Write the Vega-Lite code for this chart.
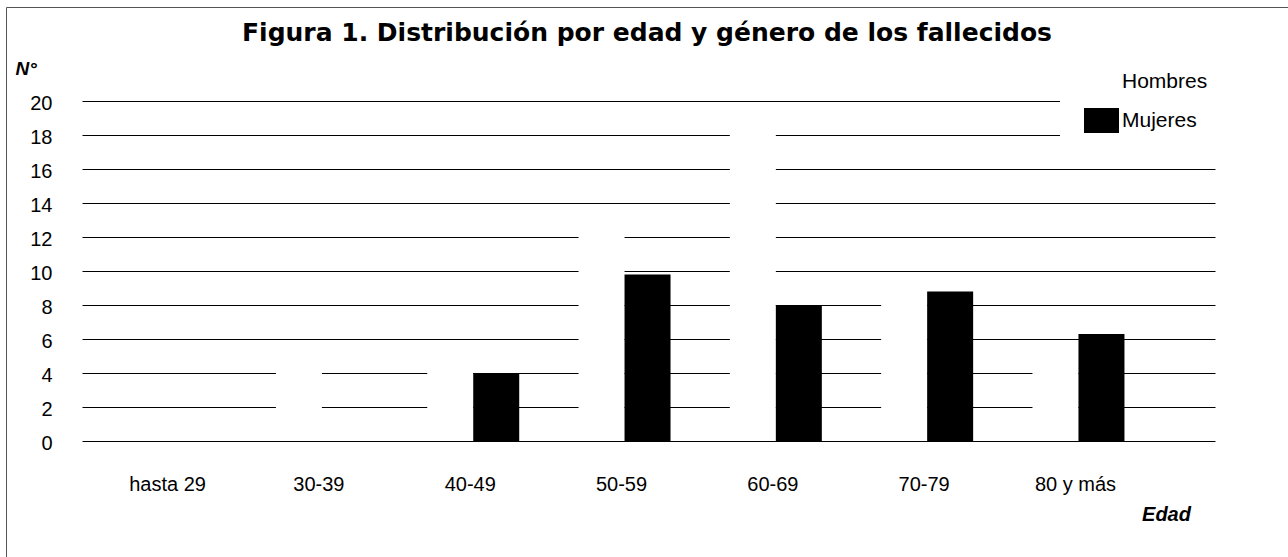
{
  "$schema": "https://vega.github.io/schema/vega-lite/v6.json",
  "autosize": {"type": "none"},
  "width": 1282,
  "height": 550,
  "padding": {"left": 6, "top": 7, "right": 0, "bottom": 0},
  "background": "white",
  "title": {
    "text": "Figura 1. Distribución por edad y género de los fallecidos",
    "font": "DejaVu Sans",
    "fontSize": 25,
    "fontWeight": "bold",
    "color": "black",
    "anchor": "middle",
    "frame": "group",
    "baseline": "alphabetic",
    "offset": -59
  },
  "data": {
    "values": [
      {"edad": "hasta 29", "genero": "Hombres", "n": 1},
      {"edad": "hasta 29", "genero": "Mujeres", "n": 0},
      {"edad": "30-39", "genero": "Hombres", "n": 5},
      {"edad": "30-39", "genero": "Mujeres", "n": 0},
      {"edad": "40-49", "genero": "Hombres", "n": 5},
      {"edad": "40-49", "genero": "Mujeres", "n": 4},
      {"edad": "50-59", "genero": "Hombres", "n": 13},
      {"edad": "50-59", "genero": "Mujeres", "n": 9.8},
      {"edad": "60-69", "genero": "Hombres", "n": 19},
      {"edad": "60-69", "genero": "Mujeres", "n": 8},
      {"edad": "70-79", "genero": "Hombres", "n": 9},
      {"edad": "70-79", "genero": "Mujeres", "n": 8.8},
      {"edad": "80 y más", "genero": "Hombres", "n": 5},
      {"edad": "80 y más", "genero": "Mujeres", "n": 6.3}
    ]
  },
  "mark": {"type": "bar", "strokeWidth": 0},
  "encoding": {
    "x": {
      "field": "edad",
      "type": "nominal",
      "sort": ["hasta 29", "30-39", "40-49", "50-59", "60-69", "70-79", "80 y más"],
      "scale": {"range": [76, 1209], "paddingInner": 0.392, "paddingOuter": 0.44, "align": 0.32},
      "axis": {
        "orient": "bottom",
        "offset": -116,
        "domain": false,
        "ticks": false,
        "grid": false,
        "labelAngle": 0,
        "labelFont": "Liberation Sans",
        "labelFontSize": 20,
        "labelColor": "black",
        "labelBaseline": "alphabetic",
        "labelPadding": 49,
        "labelOffset": -3,
        "title": "Edad",
        "titleFont": "Liberation Sans",
        "titleFontSize": 20,
        "titleFontWeight": "bold",
        "titleFontStyle": "italic",
        "titleColor": "black",
        "titleAlign": "center",
        "titleBaseline": "alphabetic",
        "titleAnchor": null,
        "titleX": 1160,
        "titleY": 79
      }
    },
    "xOffset": {"field": "genero", "type": "nominal", "sort": ["Hombres", "Mujeres"]},
    "y": {
      "field": "n",
      "type": "quantitative",
      "scale": {"domain": [0, 20], "range": [434, 94], "nice": false, "zero": true},
      "axis": {
        "orient": "left",
        "offset": -76,
        "values": [0, 2, 4, 6, 8, 10, 12, 14, 16, 18, 20],
        "domain": false,
        "ticks": false,
        "grid": true,
        "gridColor": "black",
        "gridWidth": 1,
        "gridOpacity": 1,
        "labelFont": "Liberation Sans",
        "labelFontSize": 20,
        "labelColor": "black",
        "labelBaseline": "alphabetic",
        "labelOffset": 8,
        "labelPadding": 30,
        "title": "N°",
        "titleFont": "Liberation Sans",
        "titleFontSize": 19,
        "titleFontWeight": "bold",
        "titleFontStyle": "italic",
        "titleColor": "black",
        "titleAngle": 0,
        "titleAlign": "left",
        "titleBaseline": "alphabetic",
        "titleAnchor": null,
        "titleX": -67,
        "titleY": 67
      }
    },
    "color": {
      "field": "genero",
      "type": "nominal",
      "scale": {"domain": ["Hombres", "Mujeres"], "range": ["#ffffff", "#000000"]},
      "legend": {
        "orient": "none",
        "legendX": 1054,
        "legendY": 33.5,
        "title": null,
        "fillColor": "white",
        "padding": 24,
        "labelFont": "Liberation Sans",
        "labelFontSize": 21,
        "labelColor": "black",
        "labelOffset": 3,
        "rowPadding": 8.5,
        "symbolType": "M-1,-0.714L1,-0.714L1,0.714L-1,0.714Z",
        "symbolSize": 1225,
        "symbolStrokeWidth": 0,
        "symbolOpacity": 1
      }
    }
  },
  "config": {
    "view": {"stroke": "#555555", "strokeWidth": 1},
    "bar": {"opacity": 1}
  }
}
